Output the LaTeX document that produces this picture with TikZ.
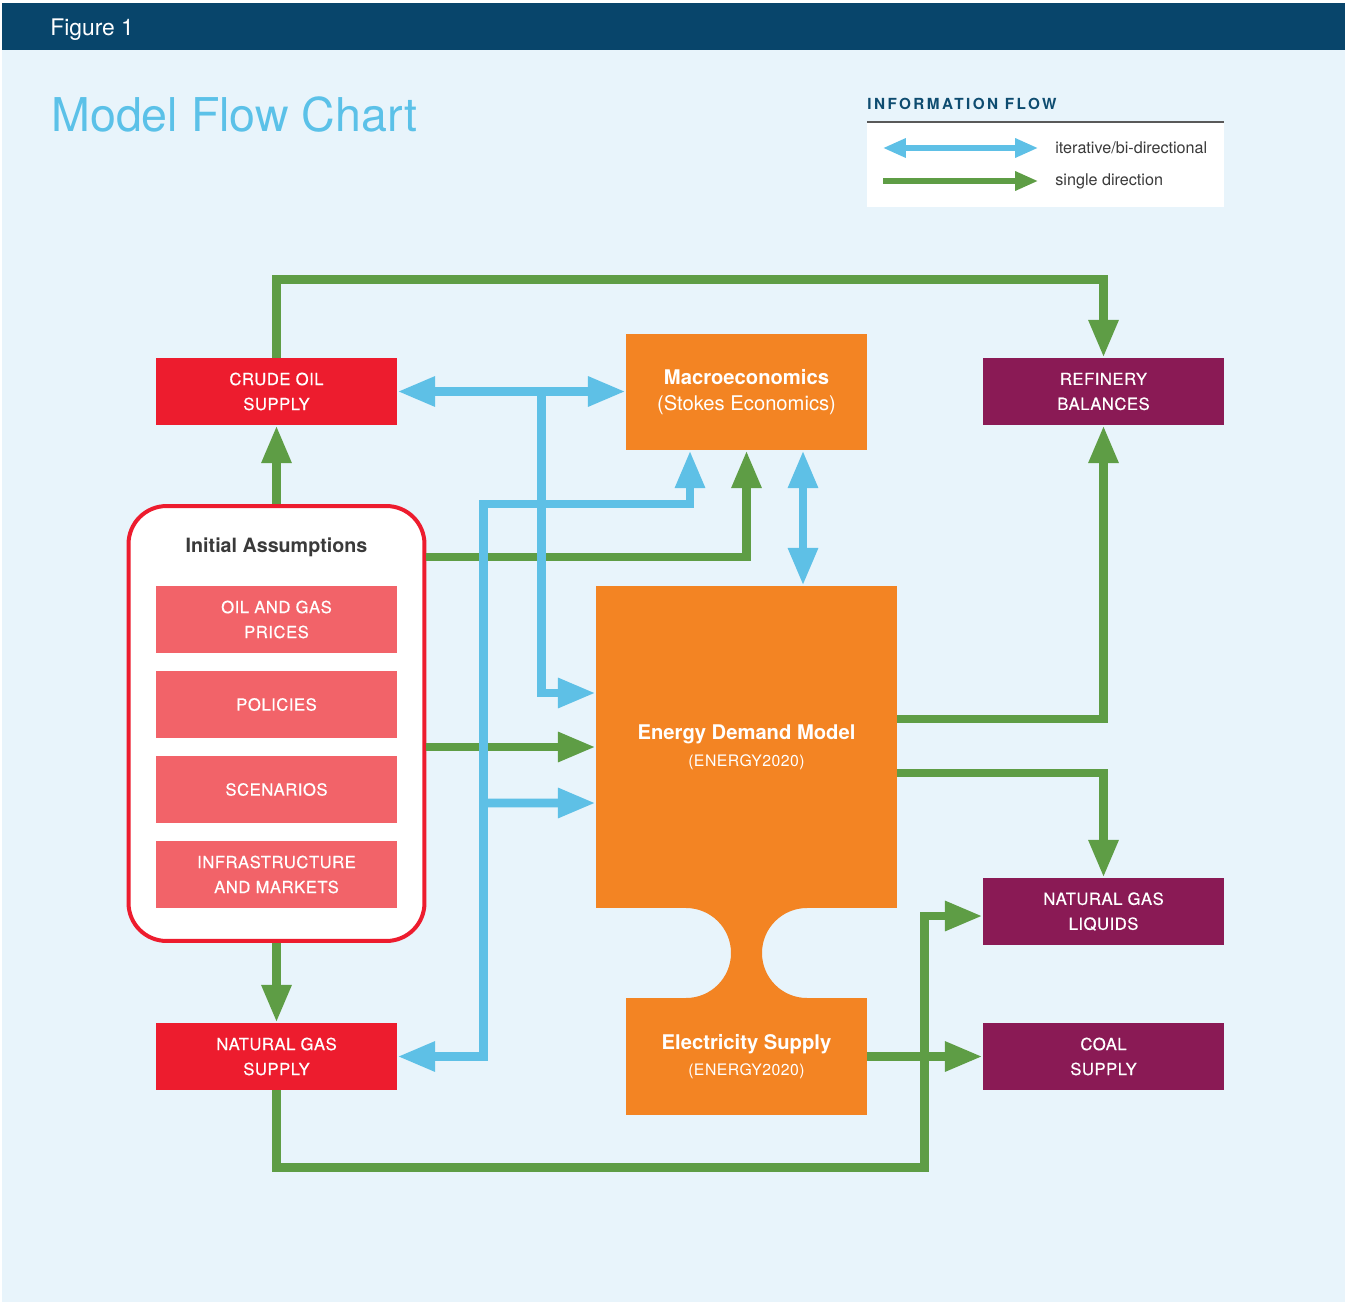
\documentclass[tikz,border=0pt]{standalone}
\usepackage{fontspec}
\setmainfont{TeX Gyre Heros}
\newfontfamily\capsfont[LetterSpace=3]{TeX Gyre Heros}
\newfontfamily\labelfont[LetterSpace=3, FakeBold=0.45]{TeX Gyre Heros}
\newfontfamily\headfont[LetterSpace=16]{TeX Gyre Heros}
\usetikzlibrary{arrows.meta, calc}
\definecolor{barblue}{HTML}{08456B}
\definecolor{paleblue}{HTML}{E8F4FB}
\definecolor{titleblue}{HTML}{5BC1E8}
\definecolor{headblue}{HTML}{0E4C70}
\definecolor{skyblue}{HTML}{5EC0E6}
\definecolor{leafgreen}{HTML}{5E9D45}
\definecolor{crimson}{HTML}{ED1C2E}
\definecolor{salmon}{HTML}{F26369}
\definecolor{plum}{HTML}{8A1A55}
\definecolor{amber}{HTML}{F38423}
\definecolor{inkgray}{HTML}{3A3A3A}

\begin{document}
\begin{tikzpicture}[
    x=0.02cm, y=0.02cm,
    every node/.style={inner sep=0pt},
    caps/.style={font=\labelfont\fontsize{9.5}{14.2}\selectfont, text=white, align=center},
    box/.style={rectangle, minimum width=4.82cm, minimum height=1.34cm, caps},
    amberbox/.style={rectangle, fill=amber, text=white, align=center,
                     font=\fontsize{11.5}{15.2}\selectfont},
    frame/.style={rectangle, draw=crimson, fill=white, line width=2.27pt,
                  rounded corners=0.76cm, minimum width=5.92cm, minimum height=8.70cm},
    oneway/.style={draw=leafgreen, line width=5.1pt, -{Triangle[length=21.5pt, width=15.9pt]}},
    blueway/.style={draw=skyblue, line width=5.1pt, -{Triangle[length=21.5pt, width=15.9pt]}},
    twoway/.style={draw=skyblue, line width=5.1pt,
                   {Triangle[length=21.5pt, width=15.9pt]}-{Triangle[length=21.5pt, width=15.9pt]}},
    keyone/.style={draw=leafgreen, line width=3pt, -{Triangle[length=13pt, width=10.4pt]}},
    keytwo/.style={draw=skyblue, line width=3pt,
                   {Triangle[length=13pt, width=10.4pt]}-{Triangle[length=13pt, width=10.4pt]}},
    keytext/.style={anchor=base west, text=inkgray, font=\fontsize{9.2}{11}\selectfont},
]
\useasboundingbox (0,0) rectangle (1345,-1304);

% ---------------------------------------------------------------- header
\fill[white] (0,0) rectangle (1345,-1304);
\fill[paleblue] (2,-3) rectangle (1345,-1302);
\fill[barblue] (2,-3) rectangle (1345,-50);
\node[anchor=base west, text=white, font=\fontsize{13}{15}\selectfont] (fig) at (50,-36) {Figure 1};
\node[anchor=base west, text=titleblue, font=\fontsize{26.5}{30}\selectfont] (title) at (51,-132) {Model Flow Chart};

% ---------------------------------------------------------------- legend
\node[anchor=base west, text=headblue, font=\headfont\bfseries\fontsize{8.7}{10}\selectfont]
    (keyhead) at (867,-110) {INFORMATION FLOW};
\fill[white] (867,-122) rectangle (1224,-207);
\draw[black!65, line width=0.8pt] (867,-122) -- (1224,-122);
\coordinate (kb0) at (883,-148);
\coordinate (kb1) at (1038,-148);
\coordinate (kg0) at (883,-181);
\coordinate (kg1) at (1038,-181);
\draw[keytwo] (kb0) -- (kb1);
\draw[keyone] (kg0) -- (kg1);
\node[keytext] (keyiter) at (1055,-153.5) {iterative/bi-directional};
\node[keytext] (keysingle) at (1055,-186) {single direction};

% ---------------------------------------------------------------- boxes
\node[box, fill=crimson] (crude) at (276.5,-391.5) {CRUDE OIL\\SUPPLY};
\node[amberbox, minimum width=4.82cm, minimum height=2.32cm] (macro) at (746.5,-392)
    {{\bfseries Macroeconomics}\\(Stokes Economics)};
\node[box, fill=plum] (refin) at (1103.5,-391.5) {REFINERY\\BALANCES};

% initial assumptions
\node[frame] (init) at (276.5,-723.5) {};
\node[anchor=base, text=inkgray, font=\bfseries\fontsize{11.2}{13}\selectfont]
    (inithead) at (276.5,-552) {Initial Assumptions};
\node[box, fill=salmon] (prices) at (276.5,-619.5) {OIL AND GAS\\PRICES};
\node[box, fill=salmon] (policy) at (276.5,-704.5) {POLICIES};
\node[box, fill=salmon] (scen) at (276.5,-789.5) {SCENARIOS};
\node[box, fill=salmon] (infra) at (276.5,-874.5) {INFRASTRUCTURE\\AND MARKETS};

\node[box, fill=crimson] (ngsup) at (276.5,-1056.5) {NATURAL GAS\\SUPPLY};
\node[box, fill=plum] (ngl) at (1103.5,-911.5) {NATURAL GAS\\LIQUIDS};
\node[box, fill=plum] (coal) at (1103.5,-1056.5) {COAL\\SUPPLY};

% the two ENERGY2020 blocks and their neck
\fill[amber] (686,-906) -- (686,-908) arc[start angle=90, end angle=-90, radius=45]
    -- (686,-1000) -- (807,-1000) -- (807,-998)
    arc[start angle=270, end angle=90, radius=45] -- (807,-906) -- cycle;
\node[amberbox, minimum width=6.02cm, minimum height=6.44cm] (edm) at (746.5,-747)
    {{\bfseries Energy Demand Model}\\{\capsfont\fontsize{9}{14.2}\selectfont (ENERGY2020)}};
\node[amberbox, minimum width=4.82cm, minimum height=2.34cm] (elec) at (746.5,-1056.5)
    {{\bfseries Electricity Supply}\\{\capsfont\fontsize{9}{14.2}\selectfont (ENERGY2020)}};

% ---------------------------------------------------------------- single direction
\draw[oneway] (init.north) -- (crude.south);
\draw[oneway] (crude.north) -- ++(0,78) -| (refin.north);
\draw[oneway] ($(init.east)+(0,166.5)$) -| (macro.south);
\draw[oneway] (init.east |- edm.west) -- (edm.west);
\draw[oneway] (init.south) -- (ngsup.north);
\draw[oneway] ($(edm.east)+(0,28)$) -| (refin.south);
\draw[oneway] ($(edm.east)+(0,-26)$) -| (ngl.north);
\draw[oneway] (elec.east) -- (coal.west);
\draw[oneway] (ngsup.south) -- ++(0,-77) -| ($(ngl.west)+(-58,-4.5)$) -- ($(ngl.west)+(0,-4.5)$);

% ---------------------------------------------------------------- iterative
\draw[twoway] (crude.east) -- (crude.east -| macro.west);
\coordinate (tee) at ($(crude.east)+(144.5,0)$);
\draw[blueway] (tee) |- ($(edm.west)+(0,54)$);
\draw[twoway] ($(macro.south)+(-56.5,0)$) |- ($(init.east)+(57.5,219.5)$) |- (ngsup.east);
\draw[blueway] ($(init.east)+(57.5,-79.5)$) -- ($(edm.west)+(0,-56)$);
\draw[twoway] ($(macro.south)+(56.5,0)$) -- ($(edm.north)+(56.5,0)$);
\end{tikzpicture}
\end{document}
